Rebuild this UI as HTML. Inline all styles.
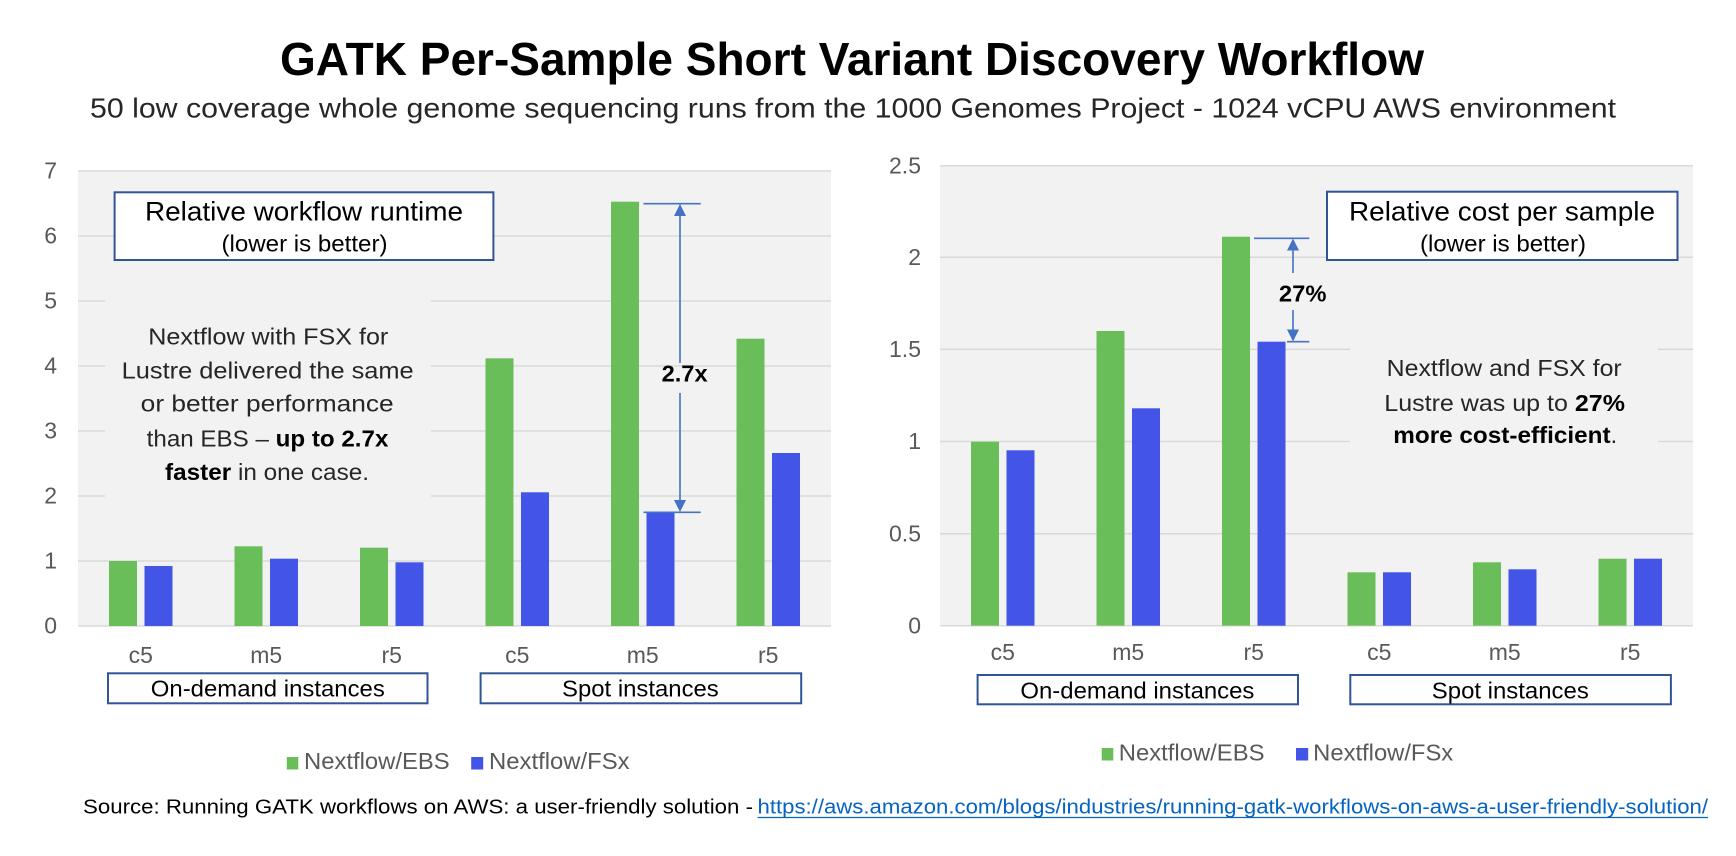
<!DOCTYPE html>
<html>
<head>
<meta charset="utf-8">
<style>
  html, body { margin: 0; padding: 0; background: #ffffff; }
  svg { display: block; }
  text { font-family: "Liberation Sans", Arial, sans-serif; }
</style>
</head>
<body>
<svg width="1736" height="856" viewBox="0 0 1736 856" xmlns="http://www.w3.org/2000/svg">
  <rect x="0" y="0" width="1736" height="856" fill="#ffffff"/>

  <!-- Title -->
  <text x="280" y="75" font-size="46" font-weight="bold" fill="#000" textLength="1144" lengthAdjust="spacingAndGlyphs">GATK Per-Sample Short Variant Discovery Workflow</text>
  <text x="90" y="117.5" font-size="28" fill="#262626" textLength="1526" lengthAdjust="spacingAndGlyphs">50 low coverage whole genome sequencing runs from the 1000 Genomes Project - 1024 vCPU AWS environment</text>

  <!-- ================= LEFT CHART ================= -->
  <rect x="78" y="171" width="753" height="455" fill="#F2F2F2"/>
  <g stroke="#D9D9D9" stroke-width="1.5">
    <line x1="78" y1="171" x2="831" y2="171"/>
    <line x1="78" y1="236" x2="831" y2="236"/>
    <line x1="78" y1="301" x2="831" y2="301"/>
    <line x1="78" y1="366" x2="831" y2="366"/>
    <line x1="78" y1="431" x2="831" y2="431"/>
    <line x1="78" y1="496" x2="831" y2="496"/>
    <line x1="78" y1="561" x2="831" y2="561"/>
    <line x1="78" y1="626" x2="831" y2="626"/>
  </g>
  <!-- text bg covering gridlines -->
  <rect x="105" y="286" width="326" height="220" fill="#F2F2F2"/>

  <!-- y labels -->
  <g font-size="23" fill="#595959" text-anchor="end">
    <text x="57" y="178.5">7</text>
    <text x="57" y="243.5">6</text>
    <text x="57" y="308.5">5</text>
    <text x="57" y="373.5">4</text>
    <text x="57" y="438.5">3</text>
    <text x="57" y="503.5">2</text>
    <text x="57" y="568.5">1</text>
    <text x="57" y="633.5">0</text>
  </g>

  <!-- bars left -->
  <g fill="#6ABE59">
    <rect x="109" y="561" width="28" height="65"/>
    <rect x="234.5" y="546.3" width="28" height="79.7"/>
    <rect x="360" y="547.7" width="28" height="78.3"/>
    <rect x="485.5" y="358.3" width="28" height="267.7"/>
    <rect x="611" y="201.7" width="28" height="424.3"/>
    <rect x="736.5" y="338.7" width="28" height="287.3"/>
  </g>
  <g fill="#4255E6">
    <rect x="144.5" y="566" width="28" height="60"/>
    <rect x="270" y="558.7" width="28" height="67.3"/>
    <rect x="395.5" y="562.3" width="28" height="63.7"/>
    <rect x="521" y="492.3" width="28" height="133.7"/>
    <rect x="646.5" y="512.3" width="28" height="113.7"/>
    <rect x="772" y="453" width="28" height="173"/>
  </g>

  <!-- arrow left -->
  <g stroke="#4472C4" stroke-width="1.6" fill="none">
    <line x1="643.5" y1="203.7" x2="700.7" y2="203.7"/>
    <line x1="643.5" y1="512.3" x2="700.7" y2="512.3"/>
    <line x1="680" y1="212" x2="680" y2="363"/>
    <line x1="680" y1="393" x2="680" y2="503"/>
  </g>
  <polygon points="680,204 674,216 686,216" fill="#4472C4"/>
  <polygon points="680,512 674,500 686,500" fill="#4472C4"/>
  <text x="684.6" y="381.7" font-size="23" font-weight="bold" fill="#000" text-anchor="middle" textLength="46" lengthAdjust="spacingAndGlyphs">2.7x</text>

  <!-- legend box left -->
  <rect x="114.6" y="192.3" width="378.8" height="67.7" fill="#ffffff" stroke="#2F5597" stroke-width="2"/>
  <text x="304" y="220.7" font-size="27" fill="#000" text-anchor="middle" textLength="318" lengthAdjust="spacingAndGlyphs">Relative workflow runtime</text>
  <text x="304.5" y="251.7" font-size="23" fill="#000" text-anchor="middle" textLength="166" lengthAdjust="spacingAndGlyphs">(lower is better)</text>

  <!-- text block left -->
  <g font-size="23" fill="#262626">
    <text x="148.3" y="344.3" textLength="240" lengthAdjust="spacingAndGlyphs">Nextflow with FSX for</text>
    <text x="121.7" y="378.3" textLength="292" lengthAdjust="spacingAndGlyphs">Lustre delivered the same</text>
    <text x="140.7" y="411.7" textLength="253" lengthAdjust="spacingAndGlyphs">or better performance</text>
    <text x="146.7" y="446.7" textLength="241.7" lengthAdjust="spacingAndGlyphs">than EBS – <tspan font-weight="bold" fill="#000">up to 2.7x</tspan></text>
    <text x="165" y="480" textLength="204" lengthAdjust="spacingAndGlyphs"><tspan font-weight="bold" fill="#000">faster</tspan> in one case.</text>
  </g>

  <!-- x labels left -->
  <g font-size="23" fill="#595959" text-anchor="middle">
    <text x="140.75" y="663">c5</text>
    <text x="266.25" y="663">m5</text>
    <text x="391.75" y="663">r5</text>
    <text x="517.25" y="663">c5</text>
    <text x="642.75" y="663">m5</text>
    <text x="768.25" y="663">r5</text>
  </g>

  <!-- category boxes left -->
  <rect x="108" y="673.3" width="319.5" height="30" fill="#ffffff" stroke="#2F5597" stroke-width="2"/>
  <rect x="480.6" y="673.3" width="320.6" height="30" fill="#ffffff" stroke="#2F5597" stroke-width="2"/>
  <text x="267.8" y="696.7" font-size="23" fill="#000" text-anchor="middle" textLength="234" lengthAdjust="spacingAndGlyphs">On-demand instances</text>
  <text x="640.4" y="696.7" font-size="23" fill="#000" text-anchor="middle" textLength="156.7" lengthAdjust="spacingAndGlyphs">Spot instances</text>

  <!-- legend left -->
  <rect x="286.8" y="757" width="11.5" height="12.5" fill="#6ABE59"/>
  <text x="304" y="769" font-size="23" fill="#595959" textLength="145.6" lengthAdjust="spacingAndGlyphs">Nextflow/EBS</text>
  <rect x="471.2" y="757" width="12" height="12.5" fill="#4255E6"/>
  <text x="489" y="769" font-size="23" fill="#595959" textLength="140.6" lengthAdjust="spacingAndGlyphs">Nextflow/FSx</text>

  <!-- ================= RIGHT CHART ================= -->
  <rect x="940" y="165.7" width="753" height="460" fill="#F2F2F2"/>
  <g stroke="#D9D9D9" stroke-width="1.5">
    <line x1="940" y1="165.7" x2="1693" y2="165.7"/>
    <line x1="940" y1="257.2" x2="1693" y2="257.2"/>
    <line x1="940" y1="349.4" x2="1693" y2="349.4"/>
    <line x1="940" y1="441.5" x2="1693" y2="441.5"/>
    <line x1="940" y1="533.7" x2="1693" y2="533.7"/>
    <line x1="940" y1="625.7" x2="1693" y2="625.7"/>
  </g>
  <rect x="1350" y="338" width="308" height="114" fill="#F2F2F2"/>

  <g font-size="23" fill="#595959" text-anchor="end">
    <text x="921" y="173.3">2.5</text>
    <text x="921" y="264.8">2</text>
    <text x="921" y="357">1.5</text>
    <text x="921" y="449.1">1</text>
    <text x="921" y="541.3">0.5</text>
    <text x="921" y="633.3">0</text>
  </g>

  <!-- bars right -->
  <g fill="#6ABE59">
    <rect x="971" y="441.7" width="28" height="184"/>
    <rect x="1096.5" y="331" width="28" height="294.7"/>
    <rect x="1222" y="236.7" width="28" height="389"/>
    <rect x="1347.5" y="572.3" width="28" height="53.4"/>
    <rect x="1473" y="562.3" width="28" height="63.4"/>
    <rect x="1598.5" y="558.7" width="28" height="67"/>
  </g>
  <g fill="#4255E6">
    <rect x="1006.5" y="450.3" width="28" height="175.4"/>
    <rect x="1132" y="408.3" width="28" height="217.4"/>
    <rect x="1257.5" y="341.7" width="28" height="284"/>
    <rect x="1383" y="572.3" width="28" height="53.4"/>
    <rect x="1508.5" y="569.3" width="28" height="56.4"/>
    <rect x="1634" y="558.7" width="28" height="67"/>
  </g>

  <!-- arrow right -->
  <g stroke="#4472C4" stroke-width="1.6" fill="none">
    <line x1="1254" y1="238.3" x2="1309.3" y2="238.3"/>
    <line x1="1287" y1="341.7" x2="1309.3" y2="341.7"/>
    <line x1="1293" y1="246" x2="1293" y2="273"/>
    <line x1="1293" y1="310" x2="1293" y2="333"/>
  </g>
  <polygon points="1293,238.5 1287,250.5 1299,250.5" fill="#4472C4"/>
  <polygon points="1293,341.5 1287,329.5 1299,329.5" fill="#4472C4"/>
  <text x="1302.7" y="301.7" font-size="23" font-weight="bold" fill="#000" text-anchor="middle" textLength="47.5" lengthAdjust="spacingAndGlyphs">27%</text>

  <!-- legend box right -->
  <rect x="1327" y="191.7" width="350.5" height="68.3" fill="#ffffff" stroke="#2F5597" stroke-width="2"/>
  <text x="1502" y="220.7" font-size="27" fill="#000" text-anchor="middle" textLength="306" lengthAdjust="spacingAndGlyphs">Relative cost per sample</text>
  <text x="1503" y="251.7" font-size="23" fill="#000" text-anchor="middle" textLength="166" lengthAdjust="spacingAndGlyphs">(lower is better)</text>

  <!-- text block right -->
  <g font-size="23" fill="#262626">
    <text x="1386.7" y="376" textLength="235" lengthAdjust="spacingAndGlyphs">Nextflow and FSX for</text>
    <text x="1384.3" y="411" textLength="240.7" lengthAdjust="spacingAndGlyphs">Lustre was up to <tspan font-weight="bold" fill="#000">27%</tspan></text>
    <text x="1393.3" y="443" textLength="224" lengthAdjust="spacingAndGlyphs"><tspan font-weight="bold" fill="#000">more cost-efficient</tspan>.</text>
  </g>

  <g font-size="23" fill="#595959" text-anchor="middle">
    <text x="1002.75" y="660">c5</text>
    <text x="1128.25" y="660">m5</text>
    <text x="1253.75" y="660">r5</text>
    <text x="1379.25" y="660">c5</text>
    <text x="1504.75" y="660">m5</text>
    <text x="1630.25" y="660">r5</text>
  </g>

  <rect x="977.6" y="675" width="320.4" height="29.3" fill="#ffffff" stroke="#2F5597" stroke-width="2"/>
  <rect x="1350.3" y="675" width="320.6" height="29.3" fill="#ffffff" stroke="#2F5597" stroke-width="2"/>
  <text x="1137.4" y="698.3" font-size="23" fill="#000" text-anchor="middle" textLength="234" lengthAdjust="spacingAndGlyphs">On-demand instances</text>
  <text x="1510.3" y="698.3" font-size="23" fill="#000" text-anchor="middle" textLength="157" lengthAdjust="spacingAndGlyphs">Spot instances</text>

  <rect x="1101.7" y="748" width="11.6" height="12.5" fill="#6ABE59"/>
  <text x="1118.8" y="760.7" font-size="23" fill="#595959" textLength="145.7" lengthAdjust="spacingAndGlyphs">Nextflow/EBS</text>
  <rect x="1296" y="748" width="12.2" height="12.5" fill="#4255E6"/>
  <text x="1313.2" y="760.7" font-size="23" fill="#595959" textLength="140" lengthAdjust="spacingAndGlyphs">Nextflow/FSx</text>

  <!-- Source -->
  <text x="83" y="813.3" font-size="20" fill="#000" textLength="670" lengthAdjust="spacingAndGlyphs">Source: Running GATK workflows on AWS: a user-friendly solution -</text>
  <text x="757.5" y="813.3" font-size="20" fill="#0563C1" textLength="950.5" lengthAdjust="spacingAndGlyphs">https://aws.amazon.com/blogs/industries/running-gatk-workflows-on-aws-a-user-friendly-solution/</text>
  <line x1="757.5" y1="817.5" x2="1708" y2="817.5" stroke="#0563C1" stroke-width="1.3"/>
</svg>
</body>
</html>
